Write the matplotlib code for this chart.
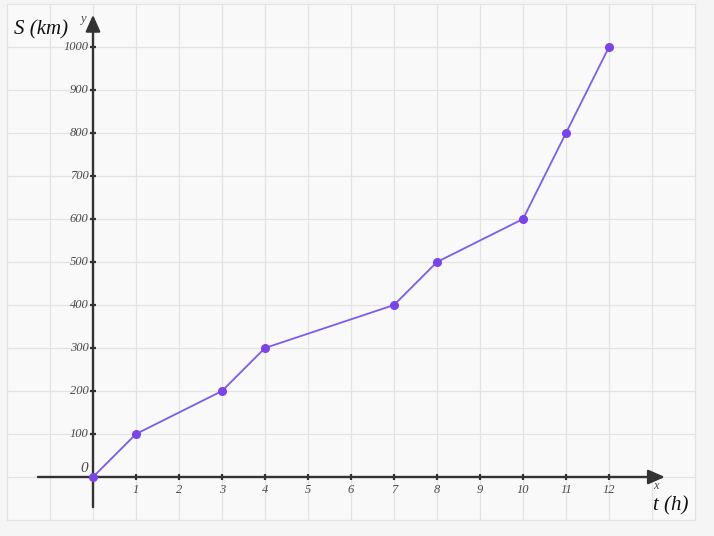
import matplotlib.pyplot as plt
from matplotlib.patches import Rectangle

# distance-time data
t_hours = [0, 1, 3, 4, 7, 8, 10, 11, 12]
s_km = [0, 100, 200, 300, 400, 500, 600, 800, 1000]

x_ticks = list(range(1, 13))
y_ticks = list(range(100, 1001, 100))

fig = plt.figure(figsize=(7.14, 5.36), dpi=100, facecolor='#f5f5f5')
ax = fig.add_axes([0, 0, 1, 1])
ax.set_facecolor('#f5f5f5')
ax.set_xlim(-93 / 43, 621 / 43)
ax.set_ylim(-59 / 0.43, 477 / 0.43)
ax.axis('off')

# grid area
ax.add_patch(Rectangle((-2, -100), 16, 1200, facecolor='#f9f9f9',
                       edgecolor='none', zorder=0))
for gx in range(-2, 15):
    ax.plot([gx, gx], [-100, 1100], color='#e3e3e3', lw=0.9, zorder=1)
for gy in range(-100, 1101, 100):
    ax.plot([-2, 14], [gy, gy], color='#e3e3e3', lw=0.9, zorder=1)

# axes with arrows
axis_col = '#333333'
ax.annotate('', xy=(13.3, 0), xytext=(-1.28, 0),
            arrowprops=dict(arrowstyle='-|>,head_length=0.5,head_width=0.22',
                            color=axis_col, lw=1.7,
                            mutation_scale=20, shrinkA=0, shrinkB=0), zorder=3)
ax.annotate('', xy=(0, 1075), xytext=(0, -70),
            arrowprops=dict(arrowstyle='-|>,head_length=0.5,head_width=0.22',
                            color=axis_col, lw=1.7,
                            mutation_scale=20, shrinkA=0, shrinkB=0), zorder=3)

# tick marks
ax.plot(x_ticks, [0] * len(x_ticks), ls='none', marker='|', ms=5, mew=1.6,
        color=axis_col, zorder=3)
ax.plot([0] * len(y_ticks), y_ticks, ls='none', marker='_', ms=5, mew=1.6,
        color=axis_col, zorder=3)

font = dict(family='Liberation Serif', style='italic', color='#4a4a4a')
for xt in x_ticks:
    ax.text(xt, -30, str(xt), ha='center', va='center', fontsize=9, **font)
for yt in y_ticks:
    ax.text(-0.1, yt, str(yt), ha='right', va='center', fontsize=9, **font)
ax.text(-0.12, 20, '0', ha='right', va='center', fontsize=11, **font)
ax.text(-0.18, 1065, 'y', ha='right', va='center', fontsize=9, **font)
ax.text(13.1, -20, 'x', ha='center', va='center', fontsize=9, **font)
ax.text(-1.84, 1040, 'S (km)', ha='left', va='center', fontsize=15,
        family='Liberation Serif', style='italic', color='#111111')
ax.text(13.02, -68, 't (h)', ha='left', va='center', fontsize=15,
        family='Liberation Serif', style='italic', color='#111111')

# data
ax.plot(t_hours, s_km, color='#7b5cf0', lw=1.3, zorder=4)
ax.plot(t_hours, s_km, ls='none', marker='o', ms=5.5, color='#7a44ea', zorder=5)

fig.savefig('out.png', dpi=100, facecolor=fig.get_facecolor())
